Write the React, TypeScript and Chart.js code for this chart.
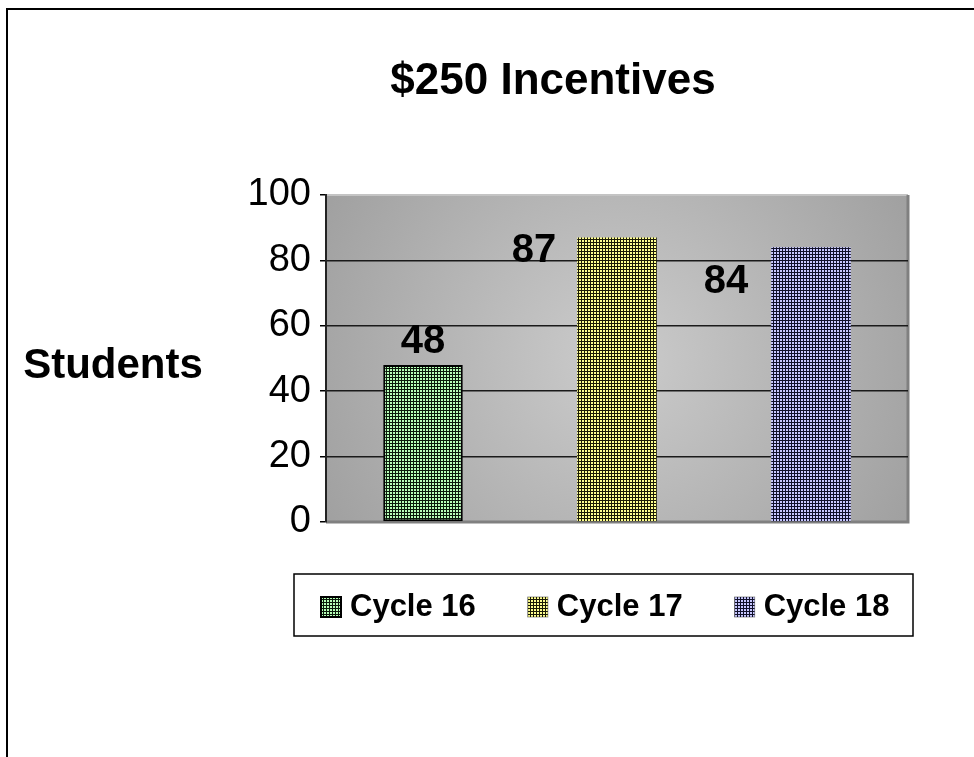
import React, { useEffect, useRef } from "react";
import { Chart, registerables } from "chart.js";

Chart.register(...registerables);

const titleText = "$250 Incentives";
const axisTitle = "Students";
const categories = ["Cycle 16", "Cycle 17", "Cycle 18"];
const students = [48, 87, 84];
const yMin = 0;
const yMax = 100;
const yStep = 20;

const FONT = "'Liberation Sans', Arial, sans-serif";
const lightColors = ["#b8ffb8", "#ffff90", "#c8c8ff"];
const darkColors = ["#0a1a0a", "#1a1a05", "#10102a"];
// label offsets relative to each bar's top-centre (as in the reference)
const labelDx = [0, -83, -85];
const labelDy = [-23, 13, 35];

function makePattern(light: string, dark: string): CanvasPattern | string {
  const c = document.createElement("canvas");
  c.width = 3;
  c.height = 3;
  const g = c.getContext("2d");
  if (!g) return light;
  g.fillStyle = dark;
  g.fillRect(0, 0, 3, 3);
  g.fillStyle = light;
  g.fillRect(0, 0, 2, 2);
  const ctx = document.createElement("canvas").getContext("2d");
  return (ctx && ctx.createPattern(c, "repeat")) || light;
}

export default function App() {
  const ref = useRef<HTMLCanvasElement | null>(null);

  useEffect(() => {
    if (!ref.current) return;
    const patterns = categories.map((_, i) => makePattern(lightColors[i], darkColors[i]));

    const decor = {
      id: "decor",
      beforeDraw(chart: any) {
        const { ctx, chartArea: a } = chart;
        ctx.save();
        ctx.fillStyle = "#ffffff";
        ctx.fillRect(0, 0, chart.width, chart.height);
        // outer frame
        ctx.strokeStyle = "#000";
        ctx.lineWidth = 2;
        ctx.strokeRect(7, 9, 3000, 3000);
        // plot background
        const cx = (a.left + a.right) / 2;
        const cy = (a.top + a.bottom) / 2;
        const r = Math.hypot(a.right - a.left, a.bottom - a.top) / 2;
        const grad = ctx.createRadialGradient(cx, cy, 0, cx, cy, r);
        grad.addColorStop(0, "#cccccc");
        grad.addColorStop(1, "#a0a0a0");
        ctx.fillStyle = grad;
        ctx.fillRect(a.left, a.top, a.right - a.left, a.bottom - a.top);
        ctx.lineWidth = 2;
        ctx.strokeStyle = "#c4c4c4";
        ctx.beginPath();
        ctx.moveTo(a.left, a.top);
        ctx.lineTo(a.right, a.top);
        ctx.stroke();
        ctx.strokeStyle = "#808080";
        ctx.lineWidth = 3;
        ctx.beginPath();
        ctx.moveTo(a.right, a.top);
        ctx.lineTo(a.right, a.bottom);
        ctx.lineTo(a.left, a.bottom);
        ctx.stroke();
        ctx.restore();
      },
      afterDatasetsDraw(chart: any) {
        const { ctx } = chart;
        ctx.save();
        ctx.font = `bold 40px ${FONT}`;
        ctx.fillStyle = "#000";
        ctx.textAlign = "center";
        ctx.textBaseline = "middle";
        chart.data.datasets.forEach((ds: any, i: number) => {
          const meta = chart.getDatasetMeta(i);
          const el = meta.data[0];
          if (!el) return;
          ctx.fillText(String(ds.data[0]), el.x + labelDx[i], el.y + labelDy[i]);
        });
        ctx.restore();
      },
      afterDraw(chart: any) {
        const { ctx } = chart;
        ctx.save();
        ctx.fillStyle = "#000";
        ctx.textBaseline = "middle";
        ctx.textAlign = "center";
        ctx.font = `bold 44px ${FONT}`;
        ctx.fillText(titleText, 553, 82);
        ctx.font = `bold 42px ${FONT}`;
        ctx.fillText(axisTitle, 113, 366);
        // legend
        const bx = 294, by = 574, bw = 619, bh = 62;
        ctx.fillStyle = "#fff";
        ctx.fillRect(bx, by, bw, bh);
        ctx.strokeStyle = "#000";
        ctx.lineWidth = 1.5;
        ctx.strokeRect(bx, by, bw, bh);
        ctx.font = `bold 31px ${FONT}`;
        ctx.textAlign = "left";
        let x = 321;
        const cyL = 607;
        chart.data.datasets.forEach((ds: any, i: number) => {
          ctx.fillStyle = ds.backgroundColor;
          ctx.fillRect(x, cyL - 10, 20, 20);
          ctx.strokeStyle = i === 0 ? "#000" : "rgba(0,0,0,0.4)";
          ctx.lineWidth = i === 0 ? 2 : 1;
          ctx.strokeRect(x, cyL - 10, 20, 20);
          ctx.fillStyle = "#000";
          ctx.fillText(ds.label, x + 29, cyL);
          x += 29 + ctx.measureText(ds.label).width + 52;
        });
        ctx.restore();
      },
    };

    const chart = new Chart(ref.current, {
      type: "bar",
      data: {
        labels: [""],
        datasets: categories.map((c, i) => ({
          label: c,
          data: [students[i]],
          backgroundColor: patterns[i] as any,
          borderColor: i === 0 ? "#000" : "rgba(0,0,0,0)",
          borderWidth: i === 0 ? 2 : 0,
          borderSkipped: false,
          categoryPercentage: 1,
          barPercentage: 0.41,
        })),
      },
      options: {
        responsive: false,
        animation: false,
        layout: { padding: { left: 0, right: 66, top: 195, bottom: 235 } },
        plugins: {
          legend: { display: false },
          title: { display: false },
          tooltip: { enabled: false },
        },
        scales: {
          x: { display: false },
          y: {
            min: yMin,
            max: yMax,
            afterFit(scale: any) {
              scale.width = 326;
            },
            ticks: {
              stepSize: yStep,
              padding: 9,
              color: "#000",
              font: { family: FONT, size: 38 },
            },
            grid: {
              color: (ctx: any) =>
                ctx.tick && (ctx.tick.value === yMin || ctx.tick.value === yMax) ? "rgba(0,0,0,0)" : "#1a1a1a",
              tickColor: "#000",
              tickLength: 6,
              lineWidth: 1.5,
            },
            border: { display: true, color: "#222", width: 2 },
          },
        },
      },
      plugins: [decor],
    });
    return () => chart.destroy();
  }, []);

  return (
    <canvas
      ref={ref}
      width={974}
      height={757}
      style={{ position: "absolute", left: 0, top: 0, display: "block" }}
    />
  );
}
